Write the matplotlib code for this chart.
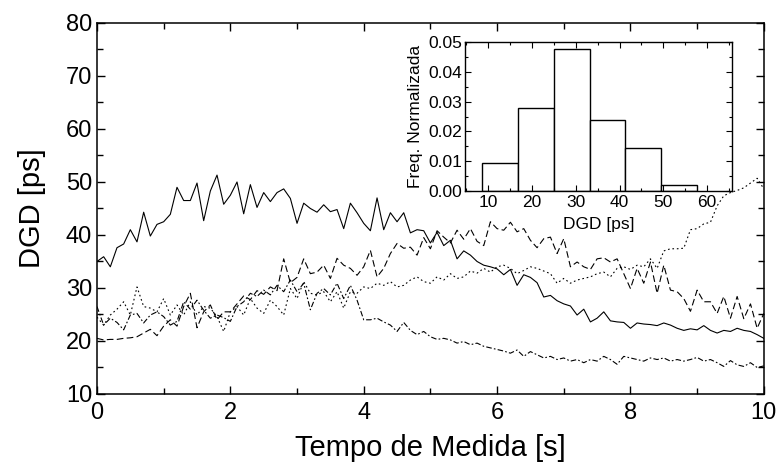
import numpy as np
import matplotlib
matplotlib.use("Agg")
import matplotlib.pyplot as plt
from matplotlib.ticker import MultipleLocator

plt.rcParams['font.family'] = ['Liberation Sans', 'DejaVu Sans']

# time axis, 0.1 s sampling
t = np.round(np.arange(101) * 0.1, 1)

dgd_solid = [
    35.0, 35.9, 34.0, 37.6, 38.3, 41.0, 38.7, 44.3, 39.8, 42.0,
    42.5, 43.9, 49.0, 46.5, 46.5, 49.8, 42.7, 48.3, 51.3, 45.8,
    47.5, 50.0, 44.0, 49.5, 45.2, 48.0, 46.3, 48.0, 48.7, 46.9,
    42.2, 46.0, 45.0, 44.3, 45.7, 44.4, 44.8, 41.2, 46.0, 44.2,
    42.2, 40.8, 47.0, 41.0, 44.2, 42.5, 44.2, 40.4, 41.0, 40.8,
    38.5, 40.5, 38.0, 39.0, 35.5, 37.0, 36.2, 35.0, 34.3, 34.0,
    33.6, 32.5, 33.5, 30.5, 32.5, 32.0, 31.0, 28.3, 28.6, 27.6,
    27.0, 26.6, 24.9, 26.0, 23.6, 24.3, 25.5, 23.8, 23.6, 23.5,
    22.4, 23.4, 23.2, 23.1, 22.9, 23.4, 23.0, 22.4, 22.0, 22.3,
    22.1, 22.9, 22.0, 21.5, 22.0, 21.8, 22.4, 22.0, 21.8, 21.2, 20.5]

dgd_dashed = [
    20.5, 20.2, 20.3, 20.3, 20.5, 20.6, 20.8, 21.5, 22.2, 21.0,
    22.8, 24.0, 22.8, 26.5, 29.0, 22.5, 25.5, 26.8, 24.0, 25.5,
    25.5, 27.0, 28.5, 27.8, 29.5, 28.8, 30.2, 29.5, 35.5, 31.0,
    32.0, 35.5, 32.7, 33.0, 34.3, 31.8, 35.6, 34.3, 33.7, 32.4,
    34.0, 37.1, 32.1, 33.7, 36.5, 38.4, 37.5, 37.7, 36.2, 39.5,
    37.4, 40.8, 39.6, 38.5, 40.9, 39.2, 41.2, 38.8, 38.0, 42.5,
    41.2, 40.9, 42.4, 40.6, 41.2, 39.0, 37.6, 39.3, 39.6, 36.5,
    39.3, 34.0, 34.9, 34.0, 33.5, 35.5, 35.7, 34.9, 35.5, 32.7,
    29.9, 33.7, 30.9, 34.9, 29.0, 34.3, 29.6, 29.3, 28.0, 25.6,
    29.6, 27.4, 27.4, 25.2, 28.4, 24.3, 28.4, 24.2, 27.0, 22.4, 25.2]

dgd_dotted = [
    24.5, 23.0, 24.9, 26.0, 27.4, 24.9, 30.2, 26.5, 26.2, 25.5,
    28.0, 24.9, 26.8, 24.9, 27.4, 24.9, 26.5, 26.2, 24.6, 21.8,
    25.5, 26.5, 24.9, 28.0, 26.2, 25.2, 27.7, 26.5, 24.9, 29.9,
    28.0, 31.2, 29.0, 28.7, 29.3, 27.4, 29.3, 26.2, 29.3, 29.0,
    30.2, 29.9, 30.9, 30.5, 31.2, 30.2, 30.5, 31.5, 32.1, 31.2,
    30.9, 32.1, 31.5, 32.7, 31.8, 32.1, 33.2, 32.8, 33.7, 33.0,
    34.0, 34.3, 33.7, 32.7, 33.3, 34.0, 33.7, 33.2, 32.7, 30.9,
    31.8, 30.9, 31.5, 31.8, 32.1, 32.7, 33.0, 32.1, 33.7, 34.0,
    33.5, 34.3, 34.0, 35.5, 33.7, 37.0, 37.4, 37.4, 37.5, 41.0,
    41.2, 42.1, 42.4, 45.5, 47.4, 48.0, 48.4, 48.9, 49.8, 50.7, 48.7]

dgd_dashdot = [
    26.5, 23.0, 24.3, 23.5, 22.1, 24.9, 25.2, 23.4, 24.9, 25.5,
    24.6, 23.0, 23.7, 27.4, 26.0, 27.7, 25.8, 24.3, 24.9, 24.4,
    23.7, 26.5, 27.4, 29.0, 28.4, 29.6, 28.7, 30.5, 29.3, 31.5,
    29.3, 30.9, 25.9, 29.0, 29.9, 28.7, 30.9, 28.0, 30.5, 27.7,
    24.0, 24.0, 24.3, 23.6, 23.0, 21.8, 23.5, 22.0, 21.2, 21.8,
    20.8, 20.3, 20.5, 20.2, 19.6, 19.9, 19.3, 19.6, 19.0, 18.7,
    18.4, 18.1, 17.7, 18.3, 17.1, 18.0, 17.4, 16.8, 17.1, 16.5,
    16.8, 16.2, 16.5, 15.9, 16.5, 16.2, 17.1, 16.5, 15.6, 17.1,
    16.8, 16.5, 16.2, 16.8, 16.5, 16.8, 16.2, 16.5, 16.2, 16.5,
    16.9, 16.2, 16.5, 15.9, 15.2, 16.3, 15.5, 15.2, 15.9, 15.0, 15.3]

# histogram (inset)
bin_edges = [8.7, 16.9, 25.0, 33.2, 41.35, 49.4, 57.6]
freq = [0.0093, 0.0277, 0.0477, 0.0240, 0.0146, 0.0019]

fig = plt.figure(figsize=(7.79, 4.74), dpi=100)
ax = fig.add_axes([0.1245, 0.1688, 0.856, 0.7827])

lw = 0.8
ax.plot(t, dgd_solid, color='black', lw=lw, linestyle='-')
ax.plot(t, dgd_dashed, color='black', lw=lw, linestyle=(0, (6, 3)))
ax.plot(t, dgd_dotted, color='black', lw=lw, linestyle=(0, (1.5, 2.5)))
ax.plot(t, dgd_dashdot, color='black', lw=lw, linestyle=(0, (5, 2, 1.5, 2)))

ax.set_xlim(0, 10)
ax.set_ylim(10, 80)
ax.xaxis.set_major_locator(MultipleLocator(2))
ax.xaxis.set_minor_locator(MultipleLocator(1))
ax.yaxis.set_major_locator(MultipleLocator(10))
ax.yaxis.set_minor_locator(MultipleLocator(5))
ax.tick_params(which='both', direction='in', top=True, right=True,
               labelsize=17, width=1.0)
ax.tick_params(axis='x', pad=6)
ax.tick_params(which='major', length=6)
ax.tick_params(which='minor', length=4)
for s in ax.spines.values():
    s.set_linewidth(1.1)
ax.set_xlabel('Tempo de Medida [s]', fontsize=21, labelpad=7)
ax.set_ylabel('DGD [ps]', fontsize=21, labelpad=14)

# inset histogram
ins = fig.add_axes([0.5969, 0.597, 0.3428, 0.3143])
ins.set_facecolor('white')
ins.bar(bin_edges[:-1], freq, width=np.diff(bin_edges), align='edge',
        facecolor='white', edgecolor='black', linewidth=1.0)
ins.set_xlim(4.7, 65.7)
ins.set_ylim(0, 0.05)
ins.xaxis.set_major_locator(MultipleLocator(10))
ins.xaxis.set_minor_locator(MultipleLocator(5))
ins.yaxis.set_major_locator(MultipleLocator(0.01))
ins.yaxis.set_minor_locator(MultipleLocator(0.005))
ins.yaxis.set_major_formatter(matplotlib.ticker.FormatStrFormatter('%.2f'))
ins.tick_params(which='both', direction='in', top=True, right=True,
                labelsize=12.5, width=0.8, pad=2)
ins.tick_params(axis='x', pad=3)
ins.tick_params(which='major', length=4)
ins.tick_params(which='minor', length=2.5)
for s in ins.spines.values():
    s.set_linewidth(1.0)
ins.set_xlabel('DGD [ps]', fontsize=12.5, labelpad=5)
ins.set_ylabel('Freq. Normalizada', fontsize=12.5, labelpad=4)

fig.savefig('out.png', dpi=100)
